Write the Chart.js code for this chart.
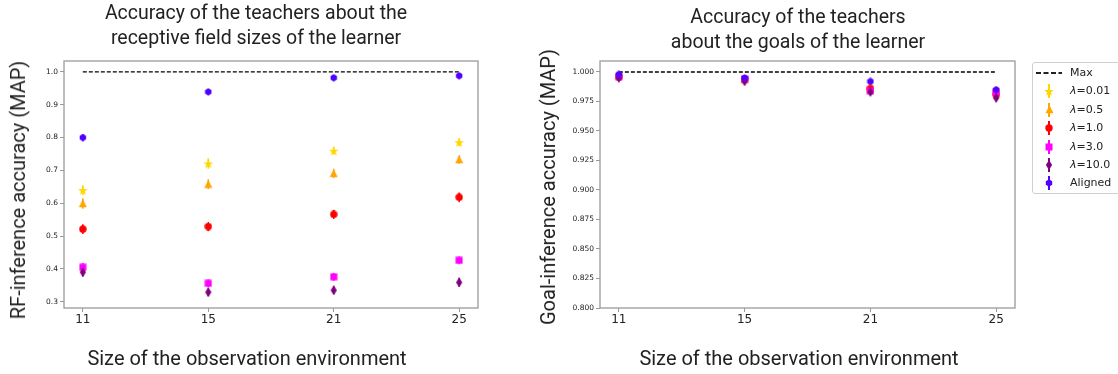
<!DOCTYPE html>
<html><head><meta charset="utf-8">
<script src="https://cdn.jsdelivr.net/npm/chart.js@4.4.0/dist/chart.umd.min.js"></script>
<style>
body{margin:0;width:1118px;height:374px;overflow:hidden;background:#fff;position:relative;font-family:Roboto,sans-serif}
canvas.c{position:absolute;top:0}
.t{position:absolute;color:#222;white-space:nowrap;text-align:center;transform:translateX(-50%);font-family:Roboto,sans-serif}
.title{font-size:19.5px;line-height:25px}
.xt{font-size:20px;line-height:24px}
.yt{position:absolute;color:#222;white-space:nowrap;font-size:20px;line-height:24px;font-family:Roboto,sans-serif;transform:translate(-50%,-50%) rotate(-90deg)}
#legend{position:absolute;left:1032px;top:62px;width:100px;height:132px;border:1px solid #d0d0d0;border-radius:3px;box-sizing:border-box;font-family:'DejaVu Sans',sans-serif;font-size:11px;color:#222}
#legend .row{position:absolute;left:0;height:18px;line-height:18px;width:100px}
#legend .row span.lbl{position:absolute;left:37px;top:0}
#legend canvas{position:absolute}
</style></head>
<body>
<canvas id="left" class="c" width="500" height="374" style="left:0"></canvas>
<canvas id="right" class="c" width="588" height="374" style="left:530px"></canvas>

<div class="t title" style="left:256px;top:0px">Accuracy of the teachers about the<br>receptive field sizes of the learner</div>
<div class="t title" style="left:798px;top:4px">Accuracy of the teachers<br>about the goals of the learner</div>
<div class="t xt" style="left:247px;top:346px">Size of the observation environment</div>
<div class="t xt" style="left:799px;top:346px">Size of the observation environment</div>
<div class="yt" style="left:18px;top:190px">RF-inference accuracy (MAP)</div>
<div class="yt" style="left:548px;top:187px">Goal-inference accuracy (MAP)</div>
<div id="legend"></div>

<script>
// ---- data ----
const categories = ['11', '15', '21', '25'];
const seriesNames = ['λ=0.01', 'λ=0.5', 'λ=1.0', 'λ=3.0', 'λ=10.0', 'Aligned'];
const maxValue = 1.0;

// RF-inference accuracy (left)
const rfLambda001 = [0.640, 0.721, 0.760, 0.786];
const rfLambda05  = [0.599, 0.658, 0.691, 0.733];
const rfLambda1   = [0.521, 0.529, 0.566, 0.618];
const rfLambda3   = [0.405, 0.356, 0.376, 0.426];
const rfLambda10  = [0.390, 0.329, 0.335, 0.359];
const rfAligned   = [0.800, 0.939, 0.982, 0.988];
const rfErr001 = [0.015, 0.016, 0.012, 0.012];
const rfErr05  = [0.016, 0.015, 0.014, 0.013];
const rfErr1   = [0.015, 0.014, 0.014, 0.015];
const rfErr3   = [0.013, 0.012, 0.012, 0.012];
const rfErr10  = [0.013, 0.012, 0.012, 0.013];
const rfErrAl  = [0.010, 0.006, 0.005, 0.004];
const rfTicks = [0.3, 0.4, 0.5, 0.6, 0.7, 0.8, 0.9, 1.0];

// Goal-inference accuracy (right)
const goalLambda001 = [0.997, 0.994, 0.985, 0.983];
const goalLambda05  = [0.997, 0.994, 0.986, 0.982];
const goalLambda1   = [0.996, 0.994, 0.986, 0.981];
const goalLambda3   = [0.996, 0.994, 0.984, 0.983];
const goalLambda10  = [0.995, 0.992, 0.983, 0.978];
const goalAligned   = [0.998, 0.995, 0.992, 0.985];
const goalErr = [0.002, 0.002, 0.002, 0.002];
const goalTicks = [0.800, 0.825, 0.850, 0.875, 0.900, 0.925, 0.950, 0.975, 1.000];

// ---- styles ----
const colors = ['#ffd700', '#ffa500', '#ff0000', '#ff00ff', '#800080', '#5000ff'];
const shapes = ['star', 'triangle', 'circle', 'square', 'thin_diamond', 'hexagon'];
const sizes  = [10, 9, 8, 8, 10, 8];

function markerCanvas(shape, color, s) {
  const c = document.createElement('canvas');
  c.width = s; c.height = s;
  const g = c.getContext('2d');
  g.fillStyle = color;
  g.beginPath();
  const r = s / 2;
  if (shape === 'star') {
    for (let i = 0; i < 10; i++) {
      const a = -Math.PI / 2 + i * Math.PI / 5;
      const rr = i % 2 === 0 ? r : r * 0.42;
      const px = r + rr * Math.cos(a), py = r + 0.6 + rr * Math.sin(a);
      i === 0 ? g.moveTo(px, py) : g.lineTo(px, py);
    }
  } else if (shape === 'triangle') {
    g.moveTo(r, 0.3); g.lineTo(s - 0.5, s - 0.8); g.lineTo(0.5, s - 0.8);
  } else if (shape === 'circle') {
    g.arc(r, r, r - 0.3, 0, Math.PI * 2);
  } else if (shape === 'square') {
    g.rect(0.5, 0.5, s - 1, s - 1);
  } else if (shape === 'thin_diamond') {
    g.moveTo(r, 0); g.lineTo(r + r * 0.62, r); g.lineTo(r, s); g.lineTo(r - r * 0.62, r);
  } else if (shape === 'hexagon') {
    for (let i = 0; i < 6; i++) {
      const a = -Math.PI / 2 + i * Math.PI / 3;
      const px = r + (r - 0.3) * Math.cos(a), py = r + (r - 0.3) * Math.sin(a);
      i === 0 ? g.moveTo(px, py) : g.lineTo(px, py);
    }
  }
  g.closePath();
  g.fill();
  return c;
}

const markers = shapes.map((sh, i) => markerCanvas(sh, colors[i], sizes[i]));

function toPoints(vals) { return vals.map((v, i) => ({ x: i, y: v })); }

function buildDatasets(seriesVals, seriesErr) {
  const ds = [{
    label: 'Max',
    data: [{ x: 0, y: maxValue }, { x: categories.length - 1, y: maxValue }],
    showLine: true, borderColor: '#000', borderWidth: 1.3, borderDash: [4, 2],
    pointRadius: 0, order: 10
  }];
  seriesVals.forEach((vals, i) => {
    ds.push({
      label: seriesNames[i], data: toPoints(vals), err: seriesErr[i],
      pointStyle: markers[i], pointRadius: sizes[i] / 2, borderColor: colors[i],
      backgroundColor: colors[i], showLine: false, order: 6 - i
    });
  });
  return ds;
}

const errPlugin = {
  id: 'errbars',
  beforeDatasetsDraw(chart) {
    const { ctx } = chart; const x = chart.scales.x, y = chart.scales.y;
    chart.data.datasets.forEach(ds => {
      if (!ds.err) return;
      ctx.save(); ctx.strokeStyle = ds.borderColor; ctx.lineWidth = 1.5;
      ds.data.forEach((p, j) => {
        const px = x.getPixelForValue(p.x);
        ctx.beginPath();
        ctx.moveTo(px, y.getPixelForValue(p.y - ds.err[j]));
        ctx.lineTo(px, y.getPixelForValue(p.y + ds.err[j]));
        ctx.stroke();
      });
      ctx.restore();
    });
  }
};
const framePlugin = {
  id: 'frame',
  afterDraw(chart) {
    const a = chart.chartArea, ctx = chart.ctx;
    ctx.save(); ctx.strokeStyle = '#9a9a9a'; ctx.lineWidth = 1.3;
    ctx.strokeRect(a.left, a.top, a.right - a.left, a.bottom - a.top);
    ctx.restore();
  }
};

function makeChart(id, datasets, yMin, yMax, ticks, decimals, yWidth, padRight) {
  return new Chart(document.getElementById(id), {
    type: 'scatter',
    data: { datasets },
    options: {
      responsive: false, animation: false, devicePixelRatio: 1,
      layout: { padding: { top: 61, right: padRight, left: 0, bottom: 0 } },
      plugins: { legend: { display: false }, tooltip: { enabled: false } },
      scales: {
        x: {
          type: 'linear', min: -0.15, max: categories.length - 1 + 0.15,
          afterBuildTicks: s => { s.ticks = categories.map((_, i) => ({ value: i })); },
          afterFit: s => { s.height = 66; },
          ticks: { callback: v => categories[v], font: { family: 'DejaVu Sans', size: 12 }, color: '#222', padding: 1, maxRotation: 0, autoSkip: false },
          grid: { drawOnChartArea: false, drawTicks: true, tickLength: 4, color: '#9a9a9a' },
          border: { display: false }
        },
        y: {
          min: yMin, max: yMax,
          afterBuildTicks: s => { s.ticks = ticks.map(v => ({ value: v })); },
          afterFit: s => { s.width = yWidth; },
          ticks: { callback: v => v.toFixed(decimals), font: { family: 'DejaVu Sans', size: 7.5 }, color: '#222', padding: 2, autoSkip: false },
          grid: { drawOnChartArea: false, drawTicks: true, tickLength: 4, color: '#9a9a9a' },
          border: { display: false }
        }
      }
    },
    plugins: [errPlugin, framePlugin]
  });
}

makeChart('left',
  buildDatasets([rfLambda001, rfLambda05, rfLambda1, rfLambda3, rfLambda10, rfAligned],
                [rfErr001, rfErr05, rfErr1, rfErr3, rfErr10, rfErrAl]),
  0.281, 1.033, rfTicks, 1, 64, 22);

makeChart('right',
  buildDatasets([goalLambda001, goalLambda05, goalLambda1, goalLambda3, goalLambda10, goalAligned],
                [goalErr, goalErr, goalErr, goalErr, goalErr, goalErr]),
  0.800, 1.0093, goalTicks, 3, 70, 103);

// ---- legend ----
const legend = document.getElementById('legend');
const rowTops = [1, 19.4, 37.8, 56.2, 74.6, 93, 111.4];
(function () {
  const r0 = document.createElement('div'); r0.className = 'row'; r0.style.top = rowTops[0] + 'px';
  const dc = document.createElement('canvas'); dc.width = 26; dc.height = 4;
  const g = dc.getContext('2d'); g.strokeStyle = '#222'; g.lineWidth = 1.8; g.setLineDash([5, 2.5]);
  g.beginPath(); g.moveTo(0, 2); g.lineTo(26, 2); g.stroke();
  dc.style.left = '3px'; dc.style.top = '7px'; r0.appendChild(dc);
  const l0 = document.createElement('span'); l0.className = 'lbl'; l0.textContent = 'Max'; r0.appendChild(l0);
  legend.appendChild(r0);
  seriesNames.forEach((name, i) => {
    const row = document.createElement('div'); row.className = 'row'; row.style.top = rowTops[i + 1] + 'px';
    const m = markerCanvas(shapes[i], colors[i], sizes[i]);
    m.style.left = (16 - sizes[i] / 2) + 'px'; m.style.top = (9 - sizes[i] / 2) + 'px';
    const g2 = document.createElement('canvas'); g2.width = 2; g2.height = 14;
    const gg = g2.getContext('2d'); gg.fillStyle = colors[i]; gg.fillRect(0, 0, 2, 14);
    g2.style.left = '15px'; g2.style.top = '2px';
    row.appendChild(g2); row.appendChild(m);
    const lbl = document.createElement('span'); lbl.className = 'lbl';
    if (name.startsWith('λ')) {
      lbl.innerHTML = '<i>λ</i>' + name.slice(1);
    } else lbl.textContent = name;
    row.appendChild(lbl);
    legend.appendChild(row);
  });
})();
</script>
</body></html>
